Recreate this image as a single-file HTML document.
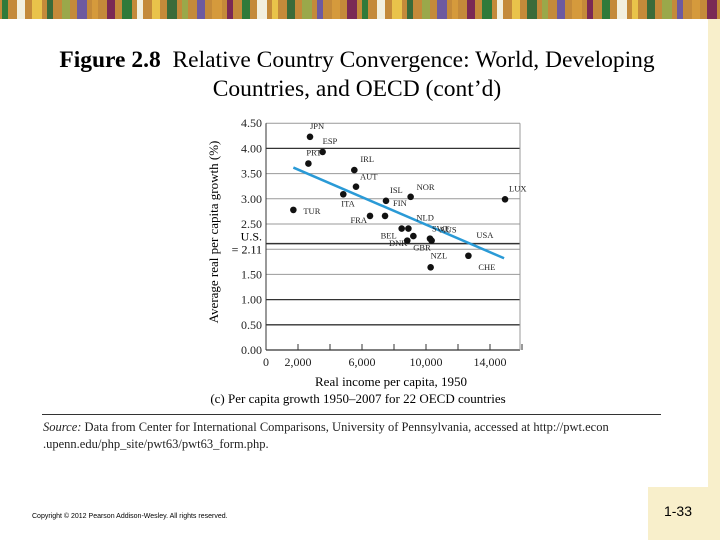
<!DOCTYPE html>
<html><head><meta charset="utf-8"><style>
body{margin:0;width:720px;height:540px;overflow:hidden;background:#fff;position:relative;font-family:"Liberation Serif",serif}
.abs{position:absolute}
</style></head><body>
<svg class="abs" style="left:0;top:0" width="720" height="20">
<rect width="720" height="19" fill="#c48a3a"/>
<g id="bn"></g>
</svg>
<div class="abs" style="left:708px;top:19px;width:12px;height:521px;background:#f8efcb"></div>
<div class="abs" style="left:648px;top:487px;width:60px;height:53px;background:#f8efcb"></div>
<div class="abs" style="left:648px;top:503px;width:60px;text-align:center;font:14px 'Liberation Sans',sans-serif">1-33</div>
<div class="abs" style="left:0;top:46px;width:714px;text-align:center;font-size:23.5px;line-height:29px"><b>Figure 2.8</b>&nbsp; Relative Country Convergence: World, Developing<br>Countries, and OECD (cont’d)</div>
<svg class="abs" style="left:0;top:0" width="720" height="540" id="chart"></svg>
<div class="abs" style="left:246px;top:374px;width:290px;text-align:center;font-size:13px">Real income per capita, 1950</div>
<div class="abs" style="left:198px;top:391px;width:320px;text-align:center;font-size:13px">(c) Per capita growth 1950–2007 for 22 OECD countries</div>
<div class="abs" style="left:42px;top:414px;width:619px;height:1px;background:#333"></div>
<div class="abs" style="left:43px;top:419px;font-size:12.5px;line-height:17px;color:#222"><i>Source:</i> Data from Center for International Comparisons, University of Pennsylvania, accessed at http://pwt.econ<br>.upenn.edu/php_site/pwt63/pwt63_form.php.</div>
<div class="abs" style="left:32px;top:513px;font:7px 'Liberation Sans',sans-serif">Copyright © 2012 Pearson Addison-Wesley. All rights reserved.</div>
<script>
const countries=["JPN","ESP","PRT","IRL","AUT","ITA","ISL","NOR","LUX","TUR","FRA","FIN","BEL","NLD","DNK","GBR","SWE","AUS","USA","CHE","NZL"];
const income=[2750,3540,2650,5520,5625,4830,7500,9040,14940,1710,6500,7440,8480,8900,9210,8830,10250,10350,12650,12650,10290];
const growth=[4.23,3.93,3.70,3.57,3.24,3.09,2.96,3.04,2.99,2.78,2.66,2.66,2.41,2.41,2.26,2.17,2.21,2.17,2.08,1.87,1.64];
const trendX=[1710,14880];
const trendY=[3.62,1.82];
const yTicks=[0,0.5,1,1.5,2,2.5,3,3.5,4,4.5];
const xTicks=[0,2000,6000,10000,14000];
const xTickLabels=["0","2,000","6,000","10,000","14,000"];
const usLine=2.11;
const labelDx=[0,0,-2,6,4,-2,4,6,4,10,-3,8,-5,8,-6,6,2,8,8,10,0];
const labelDy=[-8,-8,-8,-8,-7,12,-8,-7,-8,4,7,-10,10,-8,10,10,-7,-8,-7,14,-9];
const labelAnchor=["start","start","start","start","start","start","start","start","start","start","end","start","end","start","end","start","start","start","start","start","start"];
const svg=document.getElementById('chart');const NS='http://www.w3.org/2000/svg';
const X=v=>266+v*0.016, Y=v=>350-v*50.4;
function mk(t,a,p){const e=document.createElementNS(NS,t);for(const k in a)e.setAttribute(k,a[k]);(p||svg).appendChild(e);return e;}
yTicks.forEach(t=>{
 const dark=(t===1||t===4||t===0||t===0.5);
 const l=mk('line',{x1:X(0),x2:520,y1:Y(t),y2:Y(t),stroke:dark?'#333':'#999','stroke-width':dark?1.3:1});
 
 
 if(t===2)return;
 const tx=mk('text',{x:262,y:Y(t)+4,'text-anchor':'end','font-size':12,'font-family':'Liberation Serif,serif',fill:'#222'});tx.textContent=t.toFixed(2);
 
 
});
const ul=mk('line',{x1:X(0),x2:520,y1:Y(usLine),y2:Y(usLine),stroke:'#333','stroke-width':1.5});


const u1=mk('text',{x:262,y:Y(usLine)-3,'text-anchor':'end','font-size':12,'font-family':'Liberation Serif,serif'});u1.textContent='U.S.';


const u2=mk('text',{x:262,y:Y(usLine)+10,'text-anchor':'end','font-size':12,'font-family':'Liberation Serif,serif'});u2.textContent='= 2.11';


const ax=mk('line',{x1:X(0),x2:X(0),y1:Y(0),y2:Y(4.5),stroke:'#333'});


mk('line',{x1:520,x2:520,y1:Y(0),y2:Y(4.5),stroke:'#999'});
xTicks.forEach((t,i)=>{
 const tx=mk('text',{x:X(t),y:366,'text-anchor':'middle','font-size':12,'font-family':'Liberation Serif,serif',fill:'#222'});tx.textContent=xTickLabels[i];
 
 
});
for(let v=2000;v<=16000;v+=2000){const tk=mk('line',{x1:X(v),x2:X(v),y1:Y(0),y2:Y(0)-6,stroke:'#333'});
 
 }
const yt=mk('text',{x:0,y:0,transform:'translate(218,232) rotate(-90)','text-anchor':'middle','font-size':13,'font-family':'Liberation Serif,serif'});yt.textContent='Average real per capita growth (%)';


const tl=mk('line',{x1:X(trendX[0]),y1:Y(trendY[0]),x2:X(trendX[1]),y2:Y(trendY[1]),stroke:'#2a9ad6','stroke-width':2.5});


countries.forEach((c,i)=>{
 if(c!=="USA"){const p=mk('circle',{cx:X(income[i]),cy:Y(growth[i]),r:3.3,fill:'#111'});
 
 }
 const t=mk('text',{x:X(income[i])+labelDx[i],y:Y(growth[i])+labelDy[i],'text-anchor':labelAnchor[i],'font-size':8.5,'font-family':'Liberation Serif,serif',fill:'#222'});t.textContent=c;
 
 
});
const bn=document.getElementById('bn');
const cols=['#2f7a3a','#6d5aa0','#e9c34a','#7a2a55','#9aa84a','#f2f0e0','#d59a3c','#3b6b3a'];
for(let i=0;i<48;i++){const r=document.createElementNS(NS,'rect');r.setAttribute('x',i*15+2);r.setAttribute('y',0);r.setAttribute('width',6+(i%3)*2);r.setAttribute('height',19);r.setAttribute('fill',cols[(i*5)%cols.length]);bn.appendChild(r);}
</script>
</body></html>
